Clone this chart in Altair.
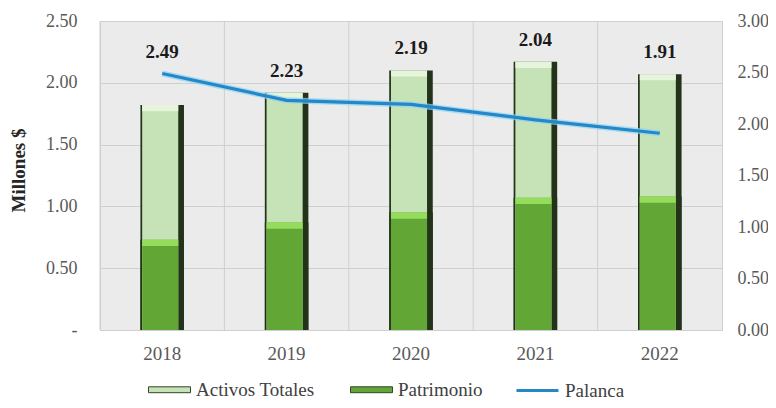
import altair as alt
import pandas as pd

years = ["2018", "2019", "2020", "2021", "2022"]
activos = [1.82, 1.92, 2.10, 2.17, 2.07]
patrimonio = [0.73, 0.87, 0.95, 1.07, 1.08]
palanca = [2.49, 2.23, 2.19, 2.04, 1.91]
bar_series = ["Activos Totales", "Patrimonio"]
bar_colors = ["#c6e2b7", "#62a736"]
line_series = ["Palanca"]
line_colors = ["#2488c8"]
left_ticks = [0, 0.5, 1.0, 1.5, 2.0, 2.5]
right_ticks = [0, 0.5, 1.0, 1.5, 2.0, 2.5, 3.0]

df = pd.DataFrame({"year": years, "activos": activos,
                   "patrimonio": patrimonio, "palanca": palanca})
df["label_y"] = [max(a, p * 2.5 / 3) for a, p in zip(activos, palanca)]
bar_df = pd.DataFrame({"year": years * 2,
                       "serie": [bar_series[0]] * len(years) + [bar_series[1]] * len(years),
                       "value": activos + patrimonio})

SERIF = "Liberation Serif"
LBL = "#595959"
GRID = "#cfcfcf"

x_scale = alt.Scale(paddingInner=0, paddingOuter=0)
x_axis = alt.Axis(labelAngle=0, grid=False, ticks=False, domain=True,
                  domainColor=GRID, labelFont=SERIF, labelFontSize=19,
                  labelColor=LBL, labelPadding=14)

def xm(**kw):
    return alt.X("year:N", title=None, scale=x_scale, axis=x_axis, **kw)

yl_axis = alt.Axis(values=left_ticks,
                   labelExpr="datum.value == 0 ? '-' : format(datum.value, '.2f')",
                   title="Millones $", titleFont=SERIF, titleFontWeight="bold",
                   titleFontSize=19, titleColor="#262626", titleX=-82, titleY=149,
                   titleBaseline="middle", titleAlign="center",
                   labelFont=SERIF, labelFontSize=18, labelColor=LBL,
                   labelPadding=23, ticks=False, domain=False, grid=True,
                   gridColor=GRID)

def yl(field):
    return alt.Y(field, scale=alt.Scale(domain=[0, 2.5]), axis=yl_axis, stack=None)

yr_axis = alt.Axis(orient="right", values=right_ticks, format=".2f", title=None,
                   labelFont=SERIF, labelFontSize=18, labelColor=LBL,
                   labelPadding=15, ticks=False, domain=False, grid=False)

def yr(field):
    return alt.Y(field, scale=alt.Scale(domain=[0, 3]), axis=yr_axis)

bw = alt.RelativeBandSize(0.35)
bw_in = alt.RelativeBandSize(0.29)

vgrid = alt.Chart(df).transform_calculate(zero="0", top="2.5").mark_rule(
    color=GRID, strokeWidth=1).encode(
    x=xm(bandPosition=0), y=yl("zero:Q"), y2="top:Q")

edges = alt.Chart(bar_df).mark_bar(width=bw, color="#22331a").encode(
    x=xm(), y=yl("value:Q"))

bodies = alt.Chart(bar_df).mark_bar(width=bw_in, xOffset=-2).encode(
    x=xm(), y=yl("value:Q"),
    color=alt.Color("serie:N", scale=alt.Scale(domain=bar_series, range=bar_colors),
                    legend=alt.Legend(title=None, orient="none", legendX=48, legendY=347,
                                      direction="horizontal", padding=0,
                                      symbolType="M-1,-0.14L1,-0.14L1,0.14L-1,0.14Z",
                                      symbolSize=1764, symbolStrokeColor="#33452a",
                                      symbolStrokeWidth=1, symbolOpacity=1,
                                      labelFont=SERIF, labelFontSize=19,
                                      labelColor="#404040", labelOffset=5,
                                      columnPadding=33)))

caps = alt.Chart(bar_df).transform_calculate(lo="datum.value - 0.05").mark_bar(
    width=bw_in, xOffset=-2).encode(
    x=xm(), y=yl("lo:Q"), y2="value:Q",
    color=alt.condition(f"datum.serie == '{bar_series[1]}'",
                        alt.value("#95dc5c"), alt.value("#e6f4dc")))

labels = alt.Chart(df).mark_text(font=SERIF, fontWeight="bold", fontSize=19,
                                 color="#1a1a1a", dy=-22, baseline="middle").encode(
    x=xm(), y=yl("label_y:Q"),
    text=alt.Text("palanca:Q", format=".2f"))

inner = alt.layer(vgrid, edges, bodies, caps, labels)

glow = alt.Chart(df).mark_line(color="#8fd3f3", strokeWidth=6, opacity=0.7).encode(
    x=xm(), y=yr("palanca:Q"))
line = alt.Chart(df).transform_calculate(serie=f"'{line_series[0]}'").mark_line(
    strokeWidth=3.2).encode(
    x=xm(), y=yr("palanca:Q"),
    stroke=alt.Stroke("serie:N", scale=alt.Scale(domain=line_series, range=line_colors),
                      legend=alt.Legend(title=None, orient="none", legendX=415, legendY=347,
                                        direction="horizontal", padding=0,
                                        symbolType="M-1,0L1,0", symbolSize=1764,
                                        symbolStrokeWidth=3, symbolOpacity=1,
                                        labelFont=SERIF, labelFontSize=19,
                                        labelColor="#404040", labelOffset=5)))

right = alt.layer(glow, line)

chart = alt.layer(inner, right).resolve_scale(y="independent").properties(
    width=622, height=309,
    autosize=alt.AutoSizeParams(type="none"),
    padding={"left": 92, "top": 13, "right": 46, "bottom": 70},
).configure_view(fill="#ebebeb", stroke=GRID)

chart.save("out.html", embed_options={"renderer": "svg", "actions": False})
